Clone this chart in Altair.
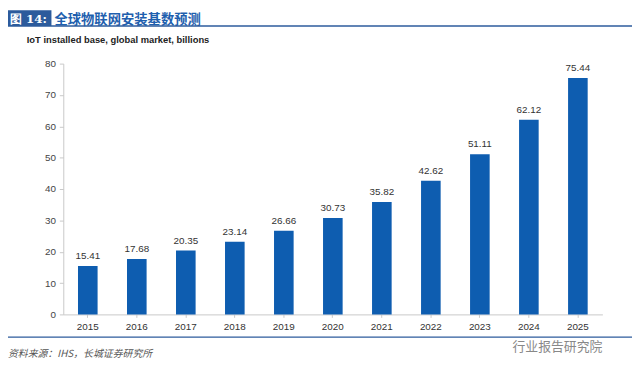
import altair as alt
import pandas as pd

years = ["2015", "2016", "2017", "2018", "2019", "2020", "2021", "2022", "2023", "2024", "2025"]
values = [15.41, 17.68, 20.35, 23.14, 26.66, 30.73, 35.82, 42.62, 51.11, 62.12, 75.44]
y_ticks = [0, 10, 20, 30, 40, 50, 60, 70, 80]

df = pd.DataFrame({"year": years, "value": values})
one = pd.DataFrame({"k": [0]})

BLUE = "#0E5DB0"
HEAD = "#2C5B9C"
FONT = "Liberation Sans"
CJK = "Noto Sans CJK SC"

x_enc = alt.X("year:N", sort=years, title=None,
              scale=alt.Scale(paddingInner=0.6, paddingOuter=0.3),
              axis=alt.Axis(labelAngle=0, labelFont=FONT, labelFontSize=10, labelColor="#333",
                            domainColor="#c8c8c8", tickColor="#c8c8c8", tickSize=3,
                            labelPadding=4))
y_enc = alt.Y("value:Q", title=None,
              scale=alt.Scale(domain=[0, 80], nice=False),
              axis=alt.Axis(values=y_ticks, tickCount=9, labelFont=FONT, labelFontSize=10,
                            labelColor="#444", domainColor="#c8c8c8", tickColor="#c8c8c8",
                            tickSize=4, labelPadding=4, grid=False))

base = alt.Chart(df).encode(x=x_enc, y=y_enc)
bars = base.mark_bar(color=BLUE)
labels = base.mark_text(baseline="bottom", dy=-5, font=FONT, fontSize=10,
                        color="#333").encode(text=alt.Text("value:Q", format=".2f"))

head_box = alt.Chart(one).mark_rect(color=HEAD).encode(
    x=alt.value(-56), x2=alt.value(-12), y=alt.value(-54), y2=alt.value(-38))
head_num = alt.Chart(one).mark_text(text="图 14:", align="left", baseline="middle",
                                    font="DejaVu Serif", fontSize=12, fontWeight="bold",
                                    color="white").encode(x=alt.value(-54), y=alt.value(-45))
head_title = alt.Chart(one).mark_text(text="全球物联网安装基数预测", align="left", baseline="middle",
                                      font=CJK, fontSize=13.5, fontWeight="bold",
                                      color="#1F5FAE").encode(x=alt.value(-9), y=alt.value(-44))
head_line = alt.Chart(one).mark_rule(color=HEAD, strokeWidth=1.5).encode(
    x=alt.value(-56), x2=alt.value(576), y=alt.value(-38))
subtitle = alt.Chart(one).mark_text(text="IoT installed base, global market, billions",
                                    align="left", baseline="middle", font=FONT, fontSize=9.5,
                                    fontWeight="bold", color="#222").encode(
    x=alt.value(-37), y=alt.value(-24))
foot_line = alt.Chart(one).mark_rule(color=HEAD, strokeWidth=1.2).encode(
    x=alt.value(-56), x2=alt.value(576), y=alt.value(277))
source = alt.Chart(one).mark_text(text="资料来源：IHS，长城证券研究所", align="left",
                                  baseline="middle", font=CJK, fontSize=10, fontStyle="italic",
                                  color="#555").encode(x=alt.value(-56), y=alt.value(294))
water = alt.Chart(one).mark_text(text="行业报告研究院", align="left", baseline="middle",
                                 font=CJK, fontSize=13, color="#888").encode(
    x=alt.value(455), y=alt.value(287))

chart = alt.layer(bars, labels, head_box, head_num, head_title, head_line, subtitle,
                  foot_line, source, water).properties(
    width=546, height=254,
    autosize=alt.AutoSizeParams(type="none"),
    padding={"left": 56, "top": 54, "right": 30, "bottom": 54},
).configure_view(stroke=None)

chart.save("out.html", embed_options={"renderer": "svg", "actions": False})
